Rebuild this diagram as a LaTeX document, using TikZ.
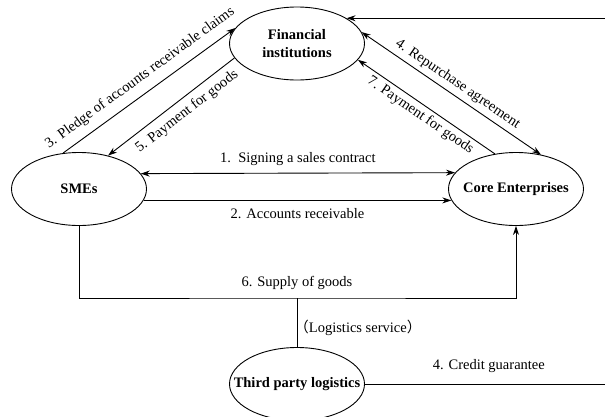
\documentclass[tikz,border=0pt]{standalone}
\usepackage{fontspec}
\setmainfont{Liberation Serif}
\newfontfamily\cjk{Noto Sans CJK SC}
\usetikzlibrary{shapes.geometric,arrows.meta,calc}

\tikzset{
  party/.style={draw, ellipse, minimum width=135pt, minimum height=73pt,
    inner xsep=-20pt, inner ysep=0pt, align=center,
    font=\fontsize{14.5}{18}\selectfont\bfseries}
}

\begin{document}
\begin{tikzpicture}[x=1pt, y=-1pt, line width=0.9pt, >={Stealth[length=9pt,width=6pt]},
  font=\fontsize{14.5}{16.5}\selectfont]
\path[use as bounding box] (0,0) rectangle (605,416);
\clip (0,0) rectangle (605,416);

% the four parties
\node[party] (fin) at (297,43.5) {Financial\\institutions};
\node[party] (sme) at (79,189) {SMEs};
\node[party] (core) at (516,189) {Core Enterprises};
\node[party] (tpl) at (297,384) {Third party logistics};

% SMEs <-> core enterprises
\draw[<->] (sme.14.8) -- (core.165.2) node[midway, above=4pt] (contract) {1.\ \ Signing a sales contract};
\draw[->] (sme.-10.7) -- (core.190.7) node[midway, below=4pt] (recv) {2. Accounts receivable};

% SMEs <-> financial institutions
\draw[->] (sme.114.3) -- (fin.166.8) node[midway, sloped, above=5pt] (pledge) {3. Pledge of accounts receivable claims};
\draw[<-] (sme.49.9) -- (fin.193.2) node[pos=0.56, sloped, below=3pt] (paysme) {5. Payment for goods};

% financial institutions <-> core enterprises
\draw[<->] (fin.10.2) -- (core.54.9) node[midway, sloped, above=1pt] (repo) {4. Repurchase agreement};
\draw[<-] (fin.-15.3) -- (core.121.2) node[midway, sloped, below=0pt] (paycore) {7. Payment for goods};

% supply of goods and logistics
\coordinate (s6) at (297,298);
\draw[->] (sme.south) |- (s6) node[above=5pt] (supply) {6. Supply of goods} -| (core.south);
\draw (tpl.north) -- (s6) node[pos=0.39, right=-3pt, inner sep=0pt] (logsvc) {{\cjk （}Logistics service{\cjk ）}};

% credit guarantee, runs round the right side
\path (fin.27.8) ++(300,0) coordinate (rc);
\draw[->] (tpl.east) -| (rc) node[pos=0.22, above=8pt] (credit) {4. Credit guarantee} -- (fin.27.8);

\end{tikzpicture}
\end{document}
